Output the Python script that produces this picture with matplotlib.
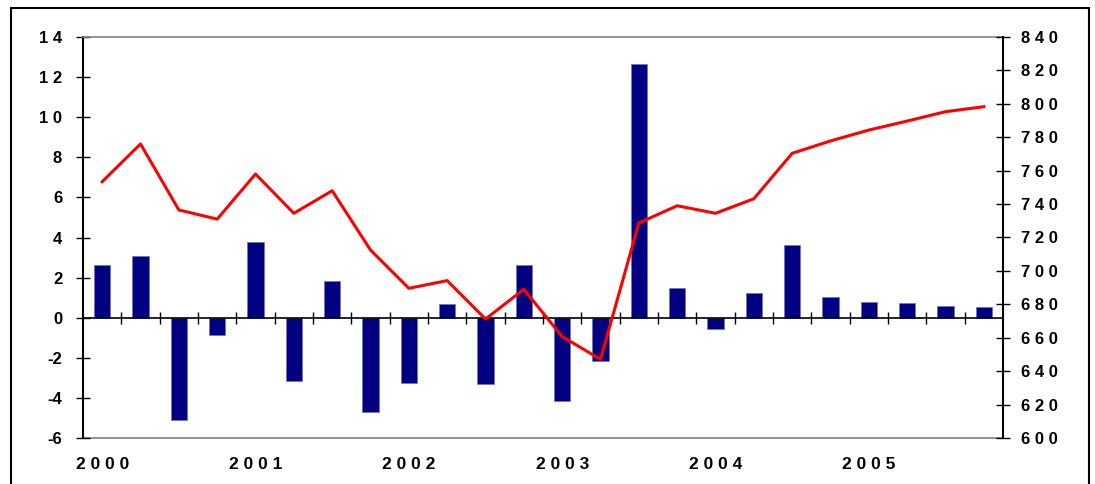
import matplotlib.pyplot as plt
from matplotlib.patches import Rectangle
import numpy as np

# 季度数据 2000Q1 - 2005Q4
quarters = [f"{y}Q{q}" for y in range(2000, 2006) for q in range(1, 5)]
years = ["2000", "2001", "2002", "2003", "2004", "2005"]

# 柱状图 (左轴)
bar_values = [2.63, 3.08, -5.10, -0.86, 3.78, -3.16, 1.83, -4.70,
              -3.24, 0.68, -3.32, 2.64, -4.14, -2.14, 12.65, 1.48,
              -0.55, 1.25, 3.63, 1.02, 0.80, 0.73, 0.60, 0.52]

# 折线 (右轴)
line_values = [753.4, 776.0, 736.5, 731.0, 758.0, 734.5, 748.0, 712.5,
               689.6, 694.2, 671.2, 689.0, 660.7, 647.1, 728.7, 739.0,
               734.5, 743.2, 770.4, 777.8, 784.3, 789.7, 795.3, 798.3]

left_ticks = [-6, -4, -2, 0, 2, 4, 6, 8, 10, 12, 14]
right_ticks = [600, 620, 640, 660, 680, 700, 720, 740, 760, 780, 800, 820, 840]


def spaced(v):
    # 数字之间加空格, 负号紧贴数字
    s = str(abs(v)) if isinstance(v, int) else str(v)
    out = " ".join(s)
    if isinstance(v, int) and v < 0:
        out = "-" + out
    return out


plt.rcParams['font.family'] = ['Liberation Sans', 'DejaVu Sans']
plt.rcParams['font.weight'] = 'bold'

fig = plt.figure(figsize=(10.95, 4.84), dpi=100)
ax = fig.add_axes([83 / 1095, 1 - 438 / 484, 920 / 1095, 401 / 484])
x = np.arange(len(quarters))

ax.bar(x, bar_values, width=0.42, color='#000080', edgecolor='#7070c0',
       linewidth=0.5, zorder=2)
ax.set_xlim(-0.5, len(quarters) - 0.5)
ax.set_ylim(-6, 14)
ax.set_yticks(left_ticks)
ax.set_yticklabels([spaced(t) for t in left_ticks], fontsize=12, fontweight='bold')
ax.tick_params(axis='y', direction='inout', length=10, width=1, pad=10)

# 零线上的分类刻度
ax.spines['bottom'].set_position(('data', 0))
ax.spines['bottom'].set_linewidth(1.2)
ax.set_xticks(x[1:] - 0.5)
ax.tick_params(axis='x', direction='inout', length=8, width=1, labelbottom=False)
ax.spines['top'].set_color('#808080')
ax.spines['top'].set_linewidth(1.2)
ax.spines['left'].set_linewidth(1.5)
ax.spines['right'].set_visible(False)

# 底部年份标签
sec = ax.secondary_xaxis('bottom')
sec.set_xticks(x[::4])
sec.set_xticklabels([spaced(y) for y in years], fontsize=12.5, fontweight='bold')
sec.tick_params(length=0, pad=14)
sec.spines['bottom'].set_color('#808080')
sec.spines['bottom'].set_linewidth(1.2)

ax2 = ax.twinx()
ax2.plot(x, line_values, color='#ff0000', linewidth=2.2, zorder=3)
ax2.set_ylim(600, 840)
ax2.set_yticks(right_ticks)
ax2.set_yticklabels([spaced(t) for t in right_ticks], fontsize=12, fontweight='bold')
ax2.tick_params(axis='y', direction='inout', length=10, width=1, pad=8)
for s in ['top', 'bottom', 'left']:
    ax2.spines[s].set_visible(False)
ax2.spines['right'].set_linewidth(1.5)

# 外框
fig.patches.append(Rectangle((11 / 1095, -0.1), 1078 / 1095, 1.1 - 8 / 484,
                             transform=fig.transFigure, fill=False,
                             edgecolor='black', linewidth=1.5))

fig.savefig('out.png', dpi=100)
